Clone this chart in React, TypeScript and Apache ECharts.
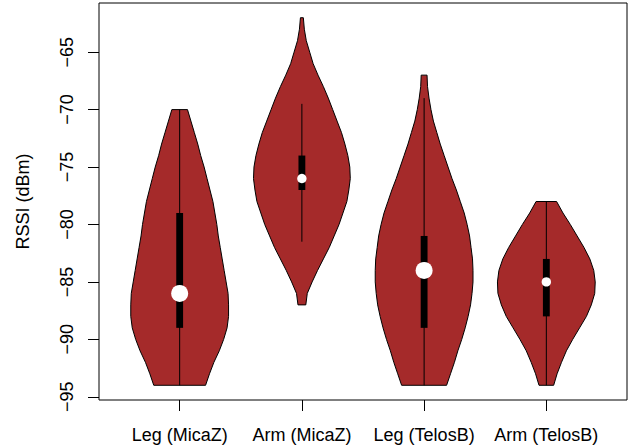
import React, { useEffect, useRef } from 'react';
import * as echarts from 'echarts';

const categories = ['Leg (MicaZ)', 'Arm (MicaZ)', 'Leg (TelosB)', 'Arm (TelosB)'];
const yTicks = [-95, -90, -85, -80, -75, -70, -65];

// Violin outlines: RSSI levels (dBm) and relative density (1 = widest)
const legMicazLevels = [-70, -71, -72, -73, -74, -75, -76, -77, -78, -79, -80, -81, -82, -83, -84, -85, -86, -87, -88, -89, -90, -91, -92, -93, -94];
const legMicazDensity = [0.16, 0.23, 0.30, 0.37, 0.43, 0.50, 0.56, 0.62, 0.68, 0.72, 0.76, 0.79, 0.83, 0.87, 0.91, 0.95, 0.99, 1.0, 1.0, 0.97, 0.90, 0.81, 0.70, 0.61, 0.53];

const armMicazLevels = [-62, -63, -64, -65, -66, -67, -68, -69, -70, -71, -72, -73, -74, -75, -76, -77, -78, -79, -80, -81, -82, -83, -84, -85, -86, -87];
const armMicazDensity = [0.03, 0.05, 0.09, 0.16, 0.23, 0.33, 0.44, 0.54, 0.63, 0.72, 0.81, 0.88, 0.94, 0.98, 0.99, 0.96, 0.92, 0.84, 0.76, 0.66, 0.56, 0.44, 0.32, 0.21, 0.11, 0.08];

const legTelosbLevels = [-67, -68, -69, -70, -71, -72, -73, -74, -75, -76, -77, -78, -79, -80, -81, -82, -83, -84, -85, -86, -87, -88, -89, -90, -91, -92, -93, -94];
const legTelosbDensity = [0.06, 0.07, 0.10, 0.14, 0.19, 0.26, 0.33, 0.41, 0.49, 0.57, 0.66, 0.74, 0.82, 0.88, 0.93, 0.96, 0.99, 1.0, 1.0, 0.98, 0.95, 0.90, 0.84, 0.77, 0.69, 0.62, 0.54, 0.46];

const armTelosbLevels = [-78, -79, -80, -81, -82, -83, -84, -85, -86, -87, -88, -89, -90, -91, -92, -93, -94];
const armTelosbDensity = [0.21, 0.34, 0.49, 0.63, 0.77, 0.89, 0.97, 1.0, 0.99, 0.92, 0.82, 0.68, 0.54, 0.41, 0.31, 0.22, 0.15];

// Box-plot statistics
const medians = [-86, -76, -84, -85];
const q1 = [-89, -77, -89, -88];
const q3 = [-79, -74, -81, -83];
const whiskerLow = [-94, -81.5, -94, -94];
const whiskerHigh = [-70, -69.5, -69, -78];

const violinLevels = [legMicazLevels, armMicazLevels, legTelosbLevels, armTelosbLevels];
const violinDensity = [legMicazDensity, armMicazDensity, legTelosbDensity, armTelosbDensity];

// styling
const HALF_WIDTH = 0.4; // max violin half width in x units
const BOX_HALF = 0.028;
const dotRadius = [8.5, 4.7, 8.5, 4.7];
const FONT = 'Liberation Sans, Arial, Helvetica, sans-serif';

export default function App() {
  const ref = useRef<HTMLDivElement>(null);
  useEffect(() => {
    if (!ref.current) return;
    const chart = echarts.init(ref.current, null, { renderer: 'svg' });
    const option: any = {
      animation: false,
      backgroundColor: '#ffffff',
      grid: {
        left: 99,
        right: 8,
        top: 3,
        bottom: 46,
        show: true,
        borderColor: '#000',
        borderWidth: 1,
        backgroundColor: 'transparent',
        containLabel: false,
        outerBoundsMode: 'none',
      },
      xAxis: {
        type: 'value',
        min: 0.34,
        max: 4.66,
        axisLine: { show: false },
        splitLine: { show: false },
        axisTick: { show: true, inside: false, length: 11, customValues: [1, 2, 3, 4], lineStyle: { color: '#000', width: 1 } },
        axisLabel: {
          show: true,
          customValues: [1, 2, 3, 4],
          formatter: (v: number) => categories[Math.round(v) - 1] || '',
          fontSize: 18,
          fontFamily: FONT,
          color: '#000',
          margin: 26,
        },
      },
      yAxis: {
        type: 'value',
        min: -95.28,
        max: -60.72,
        name: 'RSSI (dBm)',
        nameLocation: 'middle',
        nameGap: 67,
        nameRotate: 90,
        nameTextStyle: { fontSize: 18, fontFamily: FONT, color: '#000' },
        axisLine: { show: false },
        splitLine: { show: false },
        axisTick: { show: true, inside: false, length: 11, customValues: yTicks, lineStyle: { color: '#000', width: 1 } },
        axisLabel: {
          show: true,
          customValues: yTicks,
          rotate: 90,
          formatter: (v: number) => (v < 0 ? '\u2212' + Math.abs(v) : String(v)),
          fontSize: 18,
          fontFamily: FONT,
          color: '#000',
          margin: 23,
        },
      },
      series: [
        {
          type: 'custom',
          data: categories.map((_, i) => [i + 1, medians[i]]),
          encode: { x: 0, y: 1 },
          clip: false,
          renderItem: (params: any, api: any) => {
            const i = params.dataIndex;
            const x = i + 1;
            const lv = violinLevels[i];
            const dn = violinDensity[i];
            const left = lv.map((l, k) => api.coord([x - dn[k] * HALF_WIDTH, l]));
            const right = lv.map((l, k) => api.coord([x + dn[k] * HALF_WIDTH, l])).reverse();
            const points = left.concat(right);
            const wTop = api.coord([x, whiskerHigh[i]]);
            const wBot = api.coord([x, whiskerLow[i]]);
            const bTL = api.coord([x - BOX_HALF, q3[i]]);
            const bBR = api.coord([x + BOX_HALF, q1[i]]);
            const med = api.coord([x, medians[i]]);
            return {
              type: 'group',
              children: [
                {
                  type: 'polygon',
                  shape: { points },
                  style: { fill: '#A52A2A', stroke: '#000', lineWidth: 1 },
                },
                {
                  type: 'line',
                  shape: { x1: wTop[0], y1: wTop[1], x2: wBot[0], y2: wBot[1] },
                  style: { stroke: '#000', lineWidth: 1 },
                },
                {
                  type: 'rect',
                  shape: { x: bTL[0], y: bTL[1], width: bBR[0] - bTL[0], height: bBR[1] - bTL[1] },
                  style: { fill: '#000', stroke: null },
                },
                {
                  type: 'circle',
                  shape: { cx: med[0], cy: med[1], r: dotRadius[i] },
                  style: { fill: '#fff', stroke: null },
                },
              ],
            };
          },
        },
      ],
    };
    chart.setOption(option);
    return () => chart.dispose();
  }, []);
  return (
    <div
      ref={ref}
      style={{ position: 'fixed', left: 0, top: 0, width: 635, height: 446, background: '#fff' }}
    />
  );
}
